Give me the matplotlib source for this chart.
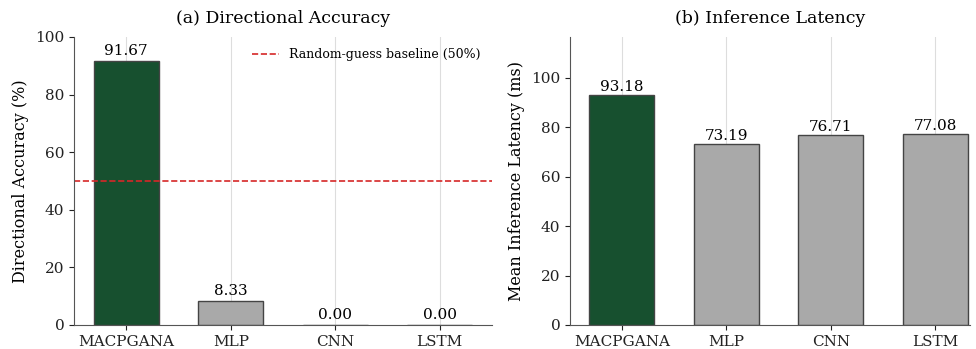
import matplotlib
matplotlib.use("Agg")
import matplotlib.pyplot as plt

models = ["MACPGANA", "MLP", "CNN", "LSTM"]
accuracy = [91.67, 8.33, 0.00, 0.00]
latency = [93.18, 73.19, 76.71, 77.08]
baseline = 50

plt.rcParams['font.family'] = ['DejaVu Serif']

colors = ["#17502f", "#a9a9a9", "#a9a9a9", "#a9a9a9"]

fig = plt.figure(figsize=(9.76, 3.49), dpi=100)
ax1 = fig.add_axes([74 / 976, 24 / 349, 418 / 976, 288 / 349])
ax2 = fig.add_axes([570 / 976, 24 / 349, 400 / 976, 288 / 349])

def style(ax):
    ax.spines['top'].set_visible(False)
    ax.spines['right'].set_visible(False)
    for s in ['left', 'bottom']:
        ax.spines[s].set_color('#555555')
    ax.tick_params(colors='#222222', labelsize=11)
    ax.grid(axis='x', color='#dddddd', linewidth=0.8)
    ax.set_axisbelow(True)

# (a) accuracy
bars = ax1.bar(models, accuracy, width=0.62, color=colors, edgecolor='#444444', linewidth=1)
for b, v in zip(bars, accuracy):
    ax1.text(b.get_x() + b.get_width() / 2, v + 1.0, f"{v:.2f}", ha='center', va='bottom', fontsize=11)
ax1.axhline(baseline, color='#d62728', linestyle='--', linewidth=1.2, label='Random-guess baseline (50%)')
ax1.set_ylim(0, 100)
ax1.set_xlim(-0.5, 3.5)
ax1.set_ylabel('Directional Accuracy (%)', fontsize=11.5)
ax1.set_title('(a) Directional Accuracy', fontsize=12.5, pad=10)
ax1.legend(loc='upper right', frameon=False, fontsize=9, handlelength=2.2)
style(ax1)

# (b) latency
bars = ax2.bar(models, latency, width=0.62, color=colors, edgecolor='#444444', linewidth=1)
for b, v in zip(bars, latency):
    ax2.text(b.get_x() + b.get_width() / 2, v + 0.4, f"{v:.2f}", ha='center', va='bottom', fontsize=11)
ax2.set_ylim(0, max(latency) * 1.25)
ax2.set_xlim(-0.495, 3.33)
ax2.set_ylabel('Mean Inference Latency (ms)', fontsize=11.5)
ax2.set_title('(b) Inference Latency', fontsize=12.5, pad=10)
style(ax2)

plt.savefig('out.png', dpi=100)
